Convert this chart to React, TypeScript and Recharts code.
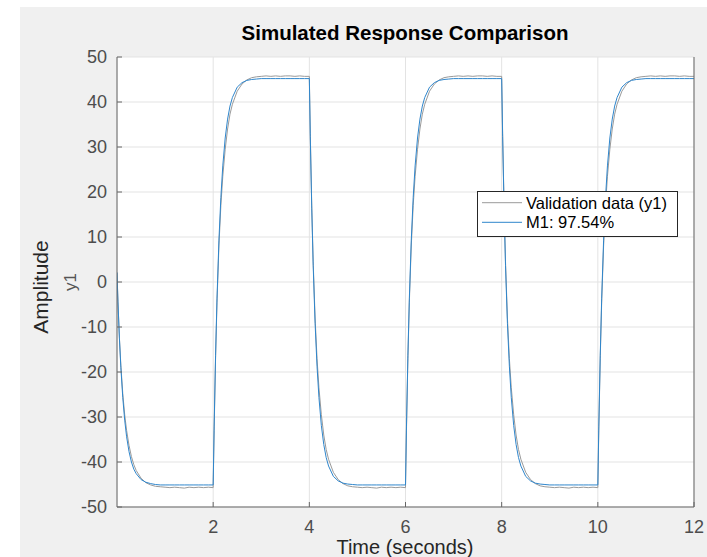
import React from 'react';
import { LineChart, Line, XAxis, YAxis, CartesianGrid, Legend } from 'recharts';

const FONT = '"Liberation Sans", Arial, Helvetica, sans-serif';

// each 2 s half-period is sampled at these offsets (denser right after the step)
const segStarts = [0, 2, 4, 6, 8, 10];
const offsets = [0, 0.02, 0.05, 0.08, 0.12, 0.16, 0.2, 0.25, 0.3, 0.35, 0.4, 0.5, 0.6, 0.7, 0.8, 0.9,
  1.0, 1.1, 1.2, 1.3, 1.4, 1.5, 1.6, 1.7, 1.8, 1.9];

// M1 (blue)
const modelFirst = [2.1, -4.4, -12.5, -19.0, -25.7, -30.7, -34.4, -37.7, -40.0, -41.6, -42.6, -43.9, -44.5, -44.8, -45.0, -45.1,
  -45.1, -45.1, -45.1, -45.1, -45.1, -45.1, -45.1, -45.1, -45.1, -45.1];
const modelRise = [-45.1, -32.2, -16.3, -3.6, 9.3, 18.8, 25.8, 32.0, 36.2, 39.1, 41.0, 43.3, 44.3, 44.8, 45.0, 45.1,
  45.2, 45.2, 45.2, 45.2, 45.2, 45.2, 45.2, 45.2, 45.2, 45.2];
const modelFall = [45.2, 32.3, 16.4, 3.7, -9.2, -18.7, -25.7, -31.9, -36.1, -39.0, -40.9, -43.2, -44.2, -44.7, -44.9, -45.0,
  -45.1, -45.1, -45.1, -45.1, -45.1, -45.1, -45.1, -45.1, -45.1, -45.1];
const modelEnd = 45.2;

// validation data (grey), slightly slower knee and noisy plateau
const valFirst = [2.1, -4.5, -12.3, -18.5, -24.8, -29.5, -33.0, -36.3, -38.8, -40.6, -41.9, -43.6, -44.6, -45.1, -45.4, -45.5,
  -45.6, -45.7, -45.6, -45.7, -45.8, -45.6, -45.7, -45.6, -45.7, -45.6];
const valRise = [-45.7, -33.0, -17.0, -4.5, 8.0, 17.0, 23.5, 29.5, 34.0, 37.3, 39.5, 42.4, 44.0, 44.9, 45.4, 45.6,
  45.7, 45.8, 45.7, 45.8, 45.7, 45.8, 45.8, 45.7, 45.8, 45.7];
const valFall = [45.7, 33.0, 17.0, 4.5, -8.0, -17.0, -23.5, -29.5, -34.0, -37.2, -39.4, -42.3, -43.9, -44.8, -45.3, -45.5,
  -45.6, -45.7, -45.6, -45.7, -45.8, -45.6, -45.7, -45.6, -45.7, -45.6];
const valEnd = 45.7;

const xTicks = [2, 4, 6, 8, 10, 12];
const yTicks = [-50, -40, -30, -20, -10, 0, 10, 20, 30, 40, 50];
const seriesNames = ['Validation data (y1)', 'M1: 97.54%'];
const seriesColors = ['#9a9a9a', '#2f86cc'];

const modelSegs = [modelFirst, modelRise, modelFall, modelRise, modelFall, modelRise];
const valSegs = [valFirst, valRise, valFall, valRise, valFall, valRise];

const data = segStarts.flatMap((s, i) =>
  offsets.map((o, j) => ({ t: +(s + o).toFixed(2), val: valSegs[i][j], model: modelSegs[i][j] }))
);
data.push({ t: 12, val: valEnd, model: modelEnd });

const FRAME = '#666';
const tickStyle = { fill: '#4d4d4d', fontSize: 18, fontFamily: FONT };

// MATLAB-style legend box, validation first
function LegendBox() {
  return (
    <svg width={201} height={46} style={{ display: 'block' }}>
      <rect x={0.5} y={0.5} width={200} height={45} fill="#fff" stroke="#262626" />
      {seriesNames.map((name, i) => (
        <g key={name}>
          <line x1={5} x2={45} y1={11.7 + i * 19.6} y2={11.7 + i * 19.6} stroke={seriesColors[i]} strokeWidth={1} />
          <text x={49} y={17.6 + i * 19.6} fontSize={16.5} fontFamily={FONT} fill="#000">{name}</text>
        </g>
      ))}
    </svg>
  );
}

export default function App() {
  return (
    <div style={{ position: 'absolute', left: 0, top: 0, width: 707, height: 557, background: '#fff', fontFamily: FONT }}>
      <div style={{ position: 'absolute', left: 20, top: 7, right: 0, bottom: 0, background: '#f0f0f0' }} />
      <div style={{ position: 'absolute', left: 0, top: 0 }}>
        <LineChart width={707} height={557} data={data} margin={{ top: 57, right: 0, bottom: 0, left: 0 }}>
          <CartesianGrid stroke="#e3e3e3" fill="#fff" fillOpacity={1} />
          <XAxis dataKey="t" type="number" domain={[0, 12]} ticks={xTicks} allowDataOverflow
            height={50} tickSize={-5} tickMargin={18} stroke={FRAME} tick={tickStyle} />
          <XAxis xAxisId="top" dataKey="t" type="number" domain={[0, 12]} ticks={xTicks} orientation="top"
            height={0} tickSize={-5} stroke={FRAME} tickFormatter={() => ''} />
          <YAxis type="number" domain={[-50, 50]} ticks={yTicks} allowDataOverflow
            width={117} tickSize={-5} tickMargin={15} stroke={FRAME} tick={tickStyle} />
          <YAxis yAxisId="r" type="number" domain={[-50, 50]} ticks={yTicks} orientation="right"
            width={13} tickSize={-5} stroke={FRAME} tickFormatter={() => ''} />
          <Legend layout="vertical" align="center" verticalAlign="middle"
            wrapperStyle={{ left: 477, top: 191, width: 201, height: 46 }} content={LegendBox} />
          <Line type="linear" dataKey="val" name={seriesNames[0]} stroke={seriesColors[0]} strokeWidth={1}
            dot={false} activeDot={false} isAnimationActive={false} />
          <Line type="linear" dataKey="model" name={seriesNames[1]} stroke={seriesColors[1]} strokeWidth={1}
            dot={false} activeDot={false} isAnimationActive={false} />
        </LineChart>
      </div>
      <svg width={707} height={557} style={{ position: 'absolute', left: 0, top: 0, pointerEvents: 'none' }}>
        <text x={405} y={40} textAnchor="middle" fontSize={20.5} fontWeight="bold" fontFamily={FONT} fill="#000">
          Simulated Response Comparison
        </text>
        <text x={405} y={554} textAnchor="middle" fontSize={20} fontFamily={FONT} fill="#262626">
          Time (seconds)
        </text>
        <text transform="translate(48,287) rotate(-90)" textAnchor="middle" fontSize={21} fontFamily={FONT} fill="#262626">
          Amplitude
        </text>
        <text transform="translate(76,282) rotate(-90)" textAnchor="middle" fontSize={17} fontFamily={FONT} fill="#555">
          y1
        </text>
      </svg>
    </div>
  );
}
